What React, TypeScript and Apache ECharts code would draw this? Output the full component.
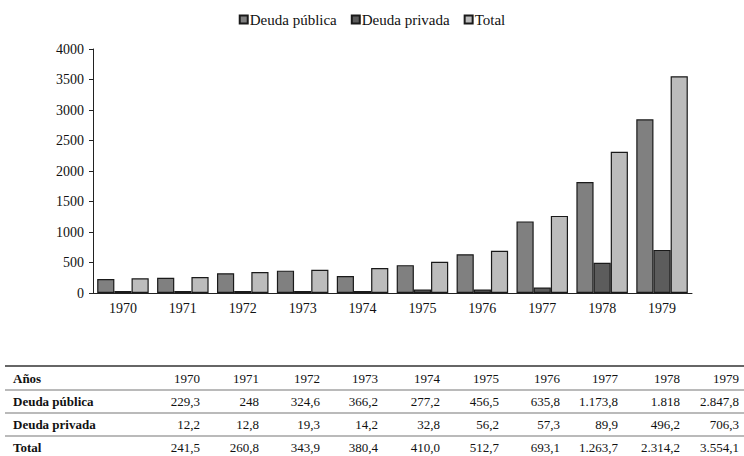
import React, { useEffect, useRef } from "react";
import * as echarts from "echarts";

const years = ["1970", "1971", "1972", "1973", "1974", "1975", "1976", "1977", "1978", "1979"];
const deudaPublica = [229.3, 248, 324.6, 366.2, 277.2, 456.5, 635.8, 1173.8, 1818, 2847.8];
const deudaPrivada = [12.2, 12.8, 19.3, 14.2, 32.8, 56.2, 57.3, 89.9, 496.2, 706.3];
const total = [241.5, 260.8, 343.9, 380.4, 410.0, 512.7, 693.1, 1263.7, 2314.2, 3554.1];

const tablePublica = ["229,3", "248", "324,6", "366,2", "277,2", "456,5", "635,8", "1.173,8", "1.818", "2.847,8"];
const tablePrivada = ["12,2", "12,8", "19,3", "14,2", "32,8", "56,2", "57,3", "89,9", "496,2", "706,3"];
const tableTotal = ["241,5", "260,8", "343,9", "380,4", "410,0", "512,7", "693,1", "1.263,7", "2.314,2", "3.554,1"];
const rowLabels = ["Años", "Deuda pública", "Deuda privada", "Total"];

const FONT = "Liberation Serif";

export default function App() {
  const ref = useRef<HTMLDivElement>(null);
  useEffect(() => {
    if (!ref.current) return;
    const chart = echarts.init(ref.current, undefined, { renderer: "svg" });

    const colRight = [200, 259, 320, 378, 440, 499, 560, 618, 680, 739];
    const rowY = [378, 401, 424, 447];
    const lineY = [366, 390, 413, 436];
    const rows = [years, tablePublica, tablePrivada, tableTotal];
    const graphics: any[] = [];
    lineY.forEach((y, i) => {
      graphics.push({
        type: "line",
        shape: { x1: 5, y1: y, x2: 744, y2: y },
        style: { stroke: i === 0 ? "#333" : "#777", lineWidth: i === 0 ? 1.5 : 1.2 },
        silent: true,
      });
    });
    rows.forEach((row, r) => {
      graphics.push({
        type: "text",
        x: 13,
        y: rowY[r],
        style: {
          text: rowLabels[r],
          fontFamily: FONT,
          fontSize: 13,
          fontWeight: "bold",
          fill: "#111",
          align: "left",
          verticalAlign: "middle",
        },
      });
      row.forEach((v, c) => {
        graphics.push({
          type: "text",
          x: colRight[c],
          y: rowY[r],
          style: {
            text: v,
            fontFamily: FONT,
            fontSize: 13,
            fill: "#111",
            align: "right",
            verticalAlign: "middle",
          },
        });
      });
    });

    const barBase = {
      type: "bar",
      barGap: "0%",
      barCategoryGap: "14%",
      barMinHeight: 2,
    };

    chart.setOption({
      animation: false,
      textStyle: { fontFamily: FONT },
      legend: {
        top: 7,
        left: "center",
        icon: "rect",
        itemWidth: 8,
        itemHeight: 8,
        itemGap: 14,
        textStyle: { fontFamily: FONT, fontSize: 15, color: "#111", padding: [0, 0, 0, -3] },
        data: ["Deuda pública", "Deuda privada", "Total"],
      },
      grid: { left: 93, right: 52, top: 49, bottom: 163, containLabel: false },
      xAxis: {
        type: "category",
        data: years,
        axisLine: { lineStyle: { color: "#222", width: 1 } },
        axisTick: { alignWithLabel: true, length: 4, lineStyle: { color: "#222" } },
        axisLabel: { fontFamily: FONT, fontSize: 14, color: "#111", margin: 8 },
      },
      yAxis: {
        type: "value",
        min: 0,
        max: 4000,
        interval: 500,
        splitLine: { show: false },
        axisLine: { show: true, lineStyle: { color: "#222", width: 1 } },
        axisTick: { show: true, length: 4, lineStyle: { color: "#222" } },
        axisLabel: {
          fontFamily: FONT,
          fontSize: 14,
          color: "#111",
          margin: 9,
          formatter: (v: number) => String(v),
        },
      },
      series: [
        {
          ...barBase,
          name: "Deuda pública",
          data: deudaPublica,
          itemStyle: { color: "#808080", borderColor: "#1a1a1a", borderWidth: 1.2 },
        },
        {
          ...barBase,
          name: "Deuda privada",
          data: deudaPrivada,
          itemStyle: { color: "#5c5c5c", borderColor: "#1a1a1a", borderWidth: 1.2 },
        },
        {
          ...barBase,
          name: "Total",
          data: total,
          itemStyle: { color: "#bcbcbc", borderColor: "#1a1a1a", borderWidth: 1.2 },
        },
      ],
      graphic: graphics,
    });
    return () => chart.dispose();
  }, []);
  return <div ref={ref} style={{ width: 744, height: 456, position: "absolute", left: 0, top: 0 }} />;
}
